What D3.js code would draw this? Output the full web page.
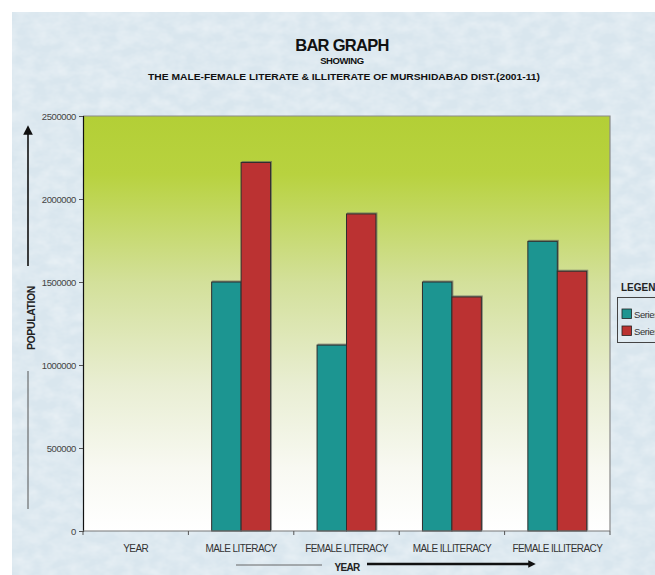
<!DOCTYPE html>
<html>
<head>
<meta charset="utf-8">
<script src="https://cdn.jsdelivr.net/npm/d3@7"></script>
<style>
  html, body { margin: 0; padding: 0; background: #ffffff; }
  svg { display: block; }
  text { font-family: "Liberation Sans", Arial, sans-serif; }
</style>
</head>
<body>
<svg id="chart" width="655" height="575"></svg>
<script>
// Categories along the x axis
const categories = ["YEAR", "MALE LITERACY", "FEMALE LITERACY", "MALE ILLITERACY", "FEMALE ILLITERACY"];
// Series names shown in the legend
const seriesNames = ["Series1", "Series2"];
// Population values per category (YEAR column is empty)
const series1 = [null, 1500000, 1120000, 1500000, 1745000];
const series2 = [null, 2220000, 1910000, 1410000, 1565000];
// Y axis ticks
const yTicks = [0, 500000, 1000000, 1500000, 2000000, 2500000];
const seriesColors = ["#1f9591", "#bb3230"];

const svg = d3.select("#chart");
const W = 655, H = 575;
const plot = { left: 83, right: 610, top: 116, bottom: 531 };

const defs = svg.append("defs");

// Pale blue paper texture for the chart area
const tex = defs.append("filter").attr("id", "paper")
  .attr("x", 0).attr("y", 0).attr("width", "100%").attr("height", "100%");
tex.append("feTurbulence").attr("type", "fractalNoise")
  .attr("baseFrequency", "0.06 0.09").attr("numOctaves", 3).attr("seed", 7).attr("result", "n");
tex.append("feColorMatrix").attr("in", "n").attr("type", "matrix")
  .attr("values", "0 0 0 0 1  0 0 0 0 1  0 0 0 0 1  0 0 0 0.6 -0.18").attr("result", "spots");
tex.append("feComposite").attr("in", "spots").attr("in2", "SourceGraphic").attr("operator", "in");

// Green-to-white gradient for the plot area
const grad = defs.append("linearGradient").attr("id", "plotGrad")
  .attr("x1", 0).attr("y1", 0).attr("x2", 0).attr("y2", 1);
[[0, "#b3cf36"], [0.14, "#b8d23f"], [0.4, "#d3e09a"], [0.65, "#e9eed3"], [0.85, "#f8f9f2"], [1, "#ffffff"]]
  .forEach(([o, c]) => grad.append("stop").attr("offset", o).attr("stop-color", c));

// Soft shadow used by bars
const sh = defs.append("filter").attr("id", "barShadow").attr("x", "-20%").attr("y", "-20%").attr("width", "140%").attr("height", "140%");
sh.append("feDropShadow").attr("dx", 1).attr("dy", -1).attr("stdDeviation", 0.7)
  .attr("flood-color", "#555").attr("flood-opacity", 0.6);

// Arrow markers
defs.append("marker").attr("id", "arrowUp").attr("viewBox", "0 0 10 10")
  .attr("refX", 5).attr("refY", 5).attr("markerWidth", 6).attr("markerHeight", 6)
  .attr("orient", "auto").append("path").attr("d", "M0,0 L10,5 L0,10 z").attr("fill", "#111");
defs.append("marker").attr("id", "arrowRight").attr("viewBox", "0 0 10 10")
  .attr("refX", 5).attr("refY", 5).attr("markerWidth", 3).attr("markerHeight", 3)
  .attr("orient", "auto").append("path").attr("d", "M0,0 L10,5 L0,10 z").attr("fill", "#111");

// Background
svg.append("rect").attr("x", 12).attr("y", 12).attr("width", W - 12).attr("height", H - 12)
  .attr("fill", "#d9e6ee");
svg.append("rect").attr("x", 12).attr("y", 12).attr("width", W - 12).attr("height", H - 12)
  .attr("fill", "#d9e6ee").attr("filter", "url(#paper)");

// Scales
const x0 = d3.scaleBand().domain(categories).range([plot.left, plot.right]).paddingInner(0).paddingOuter(0);
const x1 = d3.scaleBand().domain(seriesNames).range([0, x0.bandwidth()]).paddingInner(0).paddingOuter(0.79);
const y = d3.scaleLinear().domain([0, 2500000]).range([plot.bottom, plot.top]);

// Plot area
svg.append("rect").attr("x", plot.left).attr("y", plot.top)
  .attr("width", plot.right - plot.left).attr("height", plot.bottom - plot.top)
  .attr("fill", "url(#plotGrad)");
svg.append("path")
  .attr("d", `M${plot.left},${plot.top}H${plot.right}V${plot.bottom}`)
  .attr("fill", "none").attr("stroke", "#8a8a8a").attr("stroke-width", 1.2);

// Bars
const rows = categories.map((c, i) => ({ cat: c, vals: [series1[i], series2[i]] }));
const groups = svg.append("g").selectAll("g").data(rows).join("g")
  .attr("transform", d => `translate(${x0(d.cat)},0)`);
groups.selectAll("rect")
  .data(d => d.vals.map((v, j) => ({ name: seriesNames[j], v, j })).filter(e => e.v != null))
  .join("rect")
  .attr("x", e => x1(e.name))
  .attr("y", e => y(e.v))
  .attr("width", x1.bandwidth())
  .attr("height", e => y(0) - y(e.v))
  .attr("fill", e => seriesColors[e.j])
  .attr("stroke", "#2e2e2e").attr("stroke-width", 1)
  .attr("filter", "url(#barShadow)");

// Y axis
const yAxis = svg.append("g").attr("transform", `translate(${plot.left},0)`)
  .call(d3.axisLeft(y).tickValues(yTicks).tickFormat(d3.format("d")).tickSize(4).tickPadding(3));
yAxis.select(".domain").attr("stroke", "#111").attr("stroke-width", 1.2);
yAxis.selectAll(".tick line").attr("stroke", "#555");
yAxis.selectAll("text").attr("font-size", 9.5).attr("fill", "#444").attr("letter-spacing", -0.4)
  .attr("font-family", "'Liberation Sans', Arial, sans-serif");

// X axis with ticks at the category boundaries
const xAxisG = svg.append("g").attr("transform", `translate(0,${plot.bottom})`);
xAxisG.append("line").attr("x1", plot.left).attr("x2", plot.right)
  .attr("stroke", "#777").attr("stroke-width", 1.2);
const bounds = categories.map(c => x0(c)).concat([plot.right]);
xAxisG.selectAll("line.tk").data(bounds).join("line").attr("class", "tk")
  .attr("x1", d => d).attr("x2", d => d).attr("y1", 0).attr("y2", 4)
  .attr("stroke", "#555");
xAxisG.selectAll("text").data(categories).join("text")
  .attr("x", d => x0(d) + x0.bandwidth() / 2).attr("y", 21)
  .attr("text-anchor", "middle").attr("font-size", 10).attr("fill", "#333")
  .attr("letter-spacing", -0.6)
  .text(d => d);

// Titles
svg.append("text").attr("x", 342).attr("y", 51).attr("text-anchor", "middle")
  .attr("font-size", 16.5).attr("font-weight", "bold").attr("fill", "#111").attr("letter-spacing", -0.7)
  .text("BAR GRAPH");
svg.append("text").attr("x", 342).attr("y", 64).attr("text-anchor", "middle")
  .attr("font-size", 9.5).attr("font-weight", "bold").attr("fill", "#111").attr("letter-spacing", -0.4)
  .text("SHOWING");
svg.append("text").attr("x", 344).attr("y", 80).attr("text-anchor", "middle")
  .attr("font-size", 9.5).attr("font-weight", "bold").attr("fill", "#111")
  .attr("textLength", 392).attr("lengthAdjust", "spacingAndGlyphs")
  .text("THE MALE-FEMALE LITERATE & ILLITERATE OF MURSHIDABAD DIST.(2001-11)");

// Y axis title with arrow
svg.append("text").attr("transform", "translate(35,318) rotate(-90)")
  .attr("text-anchor", "middle").attr("font-size", 10.5).attr("font-weight", "bold")
  .attr("fill", "#222").attr("letter-spacing", -0.4).text("POPULATION");
svg.append("line").attr("x1", 28).attr("x2", 28).attr("y1", 266).attr("y2", 130)
  .attr("stroke", "#111").attr("stroke-width", 1.6).attr("marker-end", "url(#arrowUp)");
svg.append("line").attr("x1", 28).attr("x2", 28).attr("y1", 371).attr("y2", 509)
  .attr("stroke", "#555").attr("stroke-width", 1);

// X axis title with arrow
svg.append("text").attr("x", 347).attr("y", 571).attr("text-anchor", "middle")
  .attr("font-size", 10).attr("font-weight", "bold").attr("fill", "#222").attr("letter-spacing", -0.7)
  .text("YEAR");
svg.append("line").attr("x1", 236).attr("x2", 322).attr("y1", 565).attr("y2", 565)
  .attr("stroke", "#666").attr("stroke-width", 1);
svg.append("line").attr("x1", 367).attr("x2", 532).attr("y1", 564).attr("y2", 564)
  .attr("stroke", "#111").attr("stroke-width", 2.5).attr("marker-end", "url(#arrowRight)");

// Legend (extends past the right edge)
svg.append("text").attr("x", 621).attr("y", 291).attr("font-size", 10).attr("font-weight", "bold")
  .attr("fill", "#222").text("LEGEND");
svg.append("rect").attr("x", 617.5).attr("y", 297.5).attr("width", 80).attr("height", 45)
  .attr("fill", "none").attr("stroke", "#444").attr("stroke-width", 1);
const lg = svg.append("g").selectAll("g").data(seriesNames).join("g")
  .attr("transform", (d, i) => `translate(622,${309 + i * 17})`);
lg.append("rect").attr("width", 9.5).attr("height", 9.5)
  .attr("fill", (d, i) => seriesColors[i]).attr("stroke", "#222").attr("stroke-width", 0.8);
lg.append("text").attr("x", 12).attr("y", 8.5).attr("font-size", 9.5).attr("fill", "#333")
  .attr("letter-spacing", -0.4).text(d => d);
</script>
</body>
</html>
